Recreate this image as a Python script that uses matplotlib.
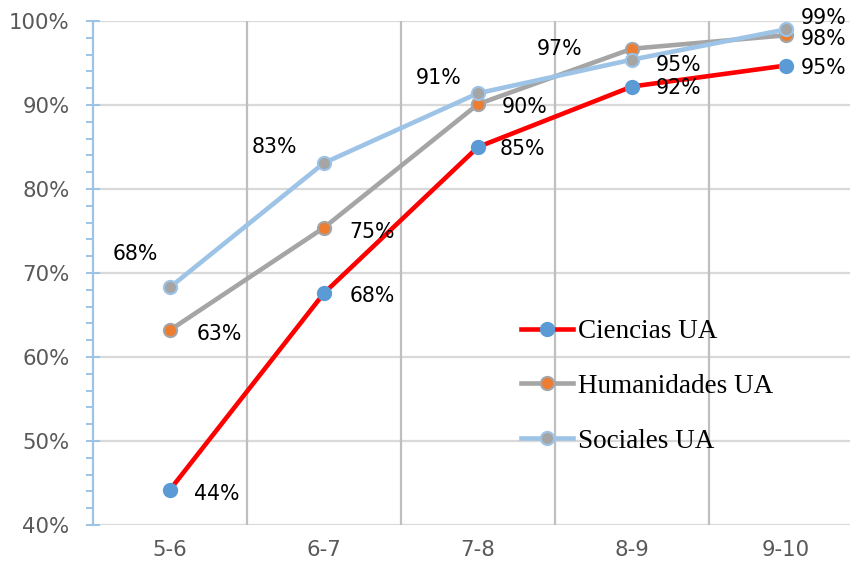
import matplotlib
matplotlib.use("Agg")
import matplotlib.pyplot as plt
from matplotlib.ticker import MultipleLocator, FuncFormatter

categories = ["5-6", "6-7", "7-8", "8-9", "9-10"]
ciencias = [44.2, 67.6, 85.0, 92.2, 94.7]
humanidades = [63.2, 75.4, 90.1, 96.7, 98.3]
sociales = [68.3, 83.1, 91.4, 95.4, 99.0]

series = [
    ("Ciencias UA", ciencias, "#FF0000", "#5B9BD5", "#5B9BD5"),
    ("Humanidades UA", humanidades, "#A5A5A5", "#ED7D31", "#A5A5A5"),
    ("Sociales UA", sociales, "#9DC3E6", "#A5A5A5", "#9DC3E6"),
]

# label offsets in pixels (dx, dy) relative to each point
label_offsets = {
    "Ciencias UA": [(47, -4), (48, -3), (44, -2), (47, -1), (38, -2)],
    "Humanidades UA": [(49, -4), (48, -4), (47, -3), (-72, 0), (38, -4)],
    "Sociales UA": [(-35, 33), (-50, 16), (-39, 15), (47, -5), (38, 11)],
}

fig = plt.figure(figsize=(8.5, 5.73), dpi=100)
ax = fig.add_axes([93 / 850, 48 / 573, 770 / 850, 504 / 573])
x = list(range(len(categories)))

ax.set_xlim(-0.5, len(categories) - 0.5)
ax.set_ylim(40, 100)

# horizontal grid
for v in range(40, 101, 10):
    ax.axhline(v, color="#D9D9D9", lw=1.6, zorder=0)
# vertical separators between categories
for b in range(1, len(categories)):
    ax.axvline(b - 0.5, color="#BFBFBF", lw=1.6, zorder=0)

handles = []
for name, vals, lc, mfc, mec in series:
    h, = ax.plot(x, vals, color=lc, lw=3.3, marker="o", ms=9.5,
                 mfc=mfc, mec=mec, mew=1.5, label=name, zorder=3,
                 clip_on=False)
    handles.append(h)
    for xi, v, (dx, dy) in zip(x, vals, label_offsets[name]):
        ax.annotate(f"{round(v):.0f}%", (xi, v), xytext=(dx, dy),
                    textcoords="offset pixels", ha="center", va="center",
                    fontsize=14.8, color="black", family="DejaVu Sans",
                    zorder=4, annotation_clip=False)

for s in ["top", "right", "bottom"]:
    ax.spines[s].set_visible(False)
ax.spines["left"].set_color("#9DC3E6")
ax.spines["left"].set_linewidth(1.6)

ax.yaxis.set_major_locator(MultipleLocator(10))
ax.yaxis.set_minor_locator(MultipleLocator(2))
ax.yaxis.set_major_formatter(FuncFormatter(lambda v, p: f"{v:.0f}%"))
ax.tick_params(axis="y", which="major", direction="inout", length=10,
               width=1.4, color="#9DC3E6", labelsize=15.3,
               labelcolor="#595959", pad=12)
ax.tick_params(axis="y", which="minor", direction="out", length=5,
               width=1.4, color="#9DC3E6")

ax.set_xticks(x)
ax.set_xticklabels(categories)
ax.tick_params(axis="x", length=0, labelsize=15.3, labelcolor="#595959",
               pad=11)

ax.legend(handles=handles, loc="upper left", bbox_to_anchor=(0.542, 0.43),
          frameon=False, prop={"family": "Liberation Serif", "size": 19.5},
          handlelength=1.9, handletextpad=0.2, labelspacing=1.1,
          borderaxespad=0)

fig.savefig("out.png", dpi=100)
